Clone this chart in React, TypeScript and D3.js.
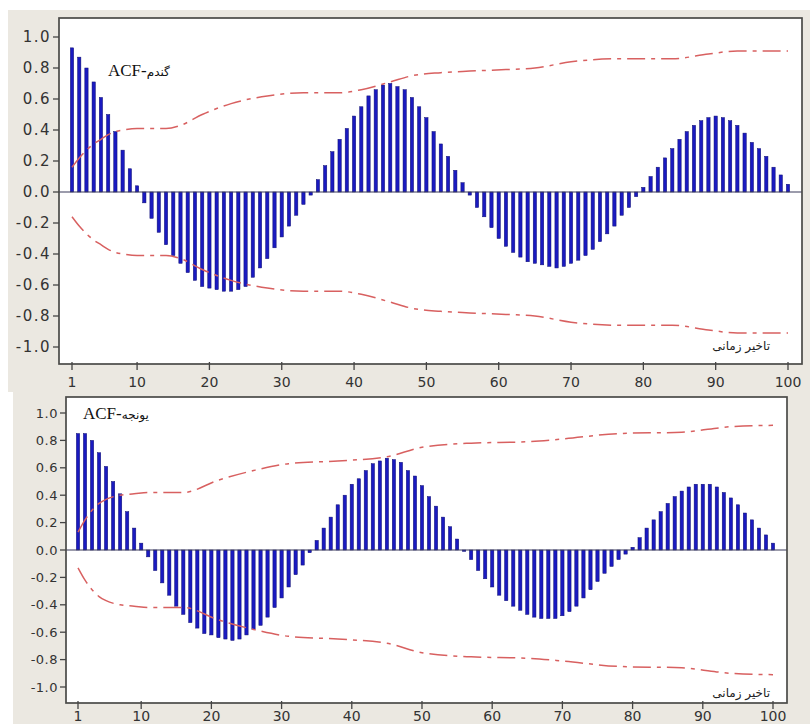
import React from "react";
import * as d3 from "d3";

const lags: number[] = Array.from({ length: 100 }, (_, i) => i + 1);

const wheatAcf: number[] = [
  0.93, 0.87, 0.80, 0.71, 0.61, 0.50, 0.39, 0.27, 0.15, 0.04,
  -0.07, -0.17, -0.26, -0.34, -0.41, -0.46, -0.52, -0.57, -0.61, -0.62,
  -0.63, -0.64, -0.64, -0.63, -0.61, -0.55, -0.49, -0.43, -0.36, -0.29,
  -0.22, -0.15, -0.08, -0.02, 0.08, 0.17, 0.26, 0.34, 0.41, 0.49,
  0.55, 0.62, 0.66, 0.69, 0.70, 0.68, 0.66, 0.61, 0.55, 0.48,
  0.39, 0.31, 0.23, 0.14, 0.06, -0.02, -0.10, -0.16, -0.23, -0.30,
  -0.35, -0.39, -0.42, -0.45, -0.46, -0.47, -0.48, -0.49, -0.48, -0.46,
  -0.44, -0.41, -0.37, -0.32, -0.27, -0.22, -0.15, -0.10, -0.03, 0.03,
  0.10, 0.16, 0.22, 0.28, 0.34, 0.39, 0.43, 0.46, 0.48, 0.49,
  0.48, 0.46, 0.43, 0.38, 0.32, 0.28, 0.23, 0.16, 0.11, 0.05,
];

const alfalfaAcf: number[] = [
  0.85, 0.85, 0.80, 0.71, 0.61, 0.50, 0.41, 0.28, 0.16, 0.05,
  -0.05, -0.15, -0.24, -0.33, -0.41, -0.47, -0.53, -0.57, -0.61, -0.62,
  -0.64, -0.65, -0.66, -0.65, -0.62, -0.58, -0.55, -0.49, -0.42, -0.35,
  -0.27, -0.18, -0.11, -0.02, 0.07, 0.16, 0.24, 0.33, 0.40, 0.48,
  0.52, 0.58, 0.63, 0.65, 0.67, 0.66, 0.64, 0.58, 0.54, 0.47,
  0.39, 0.32, 0.24, 0.17, 0.08, -0.01, -0.07, -0.15, -0.21, -0.27,
  -0.33, -0.37, -0.41, -0.44, -0.47, -0.49, -0.50, -0.50, -0.50, -0.48,
  -0.45, -0.41, -0.35, -0.29, -0.23, -0.17, -0.12, -0.07, -0.03, 0.02,
  0.09, 0.16, 0.22, 0.28, 0.34, 0.39, 0.43, 0.46, 0.48, 0.48,
  0.48, 0.46, 0.42, 0.38, 0.33, 0.27, 0.22, 0.16, 0.11, 0.05,
];

const wheatBandLags: number[] = [1, 2, 3, 4, 5, 6, 7, 8, 10, 14, 16, 19, 23, 28, 33, 38, 41, 45, 48, 52, 56, 61, 65, 70, 77, 84, 89, 93, 100];
const wheatBand: number[] = [0.16, 0.22, 0.27, 0.31, 0.34, 0.37, 0.39, 0.40, 0.41, 0.41, 0.43, 0.50, 0.57, 0.62, 0.64, 0.64, 0.66, 0.71, 0.75, 0.77, 0.78, 0.79, 0.80, 0.84, 0.86, 0.86, 0.89, 0.91, 0.91];

const alfalfaBandLags: number[] = [1, 2, 3, 4, 5, 7, 9, 11, 16, 21, 26, 31, 38, 45, 50, 57, 65, 70, 78, 87, 94, 100];
const alfalfaBand: number[] = [0.13, 0.22, 0.29, 0.34, 0.37, 0.40, 0.41, 0.42, 0.42, 0.51, 0.58, 0.63, 0.65, 0.68, 0.75, 0.78, 0.79, 0.81, 0.85, 0.86, 0.90, 0.91];

const yTicks: number[] = [1.0, 0.8, 0.6, 0.4, 0.2, 0.0, -0.2, -0.4, -0.6, -0.8, -1.0];
const xTicks: number[] = [1, 10, 20, 30, 40, 50, 60, 70, 80, 90, 100];

const titleLatin = "ACF-";
const wheatName = "گندم";
const alfalfaName = "یونجه";
const lagLabel = "تاخیر زمانی";

type PanelProps = {
  values: number[];
  bandLags: number[];
  band: number[];
  name: string;
  left: number;
  right: number;
  top: number;
  bottom: number;
  x1: number;
  x100: number;
  zeroY: number;
  unit: number;
  yFont: number;
  ySpacing: number;
  xFont: number;
  titleX: number;
  titleY: number;
  lagLabelY: number;
  xLabelY: number;
};

function fmt(v: number): string {
  const s = Math.abs(v).toFixed(1);
  return v < -1e-9 ? "-" + s : s;
}

function Panel(p: PanelProps) {
  const x = d3.scaleLinear().domain([1, 100]).range([p.x1, p.x100]);
  const y = d3
    .scaleLinear()
    .domain([(p.zeroY - p.bottom) / p.unit, (p.zeroY - p.top) / p.unit])
    .range([p.bottom, p.top]);
  const pts: [number, number][] = p.bandLags.map((l, i) => [l, p.band[i]]);
  const upper = d3
    .line<[number, number]>()
    .x((d) => x(d[0]))
    .y((d) => y(d[1]))
    .curve(d3.curveMonotoneX);
  const lower = d3
    .line<[number, number]>()
    .x((d) => x(d[0]))
    .y((d) => y(-d[1]))
    .curve(d3.curveMonotoneX);
  const bw = 3.3;
  return (
    <g>
      <rect x={p.left} y={p.top} width={p.right - p.left} height={p.bottom - p.top} fill="#ffffff" />
      {lags.map((l, i) => {
        const v = p.values[i];
        const y0 = y(0);
        const yv = y(v);
        return (
          <rect
            key={l}
            x={x(l) - bw / 2}
            y={Math.min(y0, yv)}
            width={bw}
            height={Math.max(0.8, Math.abs(yv - y0))}
            fill="#1a1ac0"
            stroke="#0e0e70"
            strokeWidth={0.5}
          />
        );
      })}
      <line x1={p.left} x2={p.right} y1={y(0)} y2={y(0)} stroke="#3a3a5a" strokeWidth={1.2} />
      <path d={upper(pts) || ""} fill="none" stroke="#d86060" strokeWidth={1.5} strokeDasharray="18,6,4,6" />
      <path d={lower(pts) || ""} fill="none" stroke="#d86060" strokeWidth={1.5} strokeDasharray="18,6,4,6" />
      <rect x={p.left} y={p.top} width={p.right - p.left} height={p.bottom - p.top} fill="none" stroke="#4a4a48" strokeWidth={1.7} />
      {yTicks.map((t) => (
        <g key={t}>
          <line x1={p.left - 6} x2={p.left} y1={y(t)} y2={y(t)} stroke="#444" strokeWidth={1.3} />
          <text
            x={p.left - 8}
            y={y(t)}
            dy="0.36em"
            textAnchor="end"
            fontFamily="DejaVu Sans, Verdana, sans-serif"
            fontSize={p.yFont}
            letterSpacing={p.ySpacing}
            fill="#333"
          >
            {fmt(t)}
          </text>
        </g>
      ))}
      {xTicks.map((t) => (
        <g key={t}>
          <line x1={x(t)} x2={x(t)} y1={p.bottom - 2} y2={p.bottom + 6} stroke="#444" strokeWidth={1.3} />
          <text
            x={x(t)}
            y={p.xLabelY}
            textAnchor="middle"
            fontFamily="DejaVu Sans, Verdana, sans-serif"
            fontSize={p.xFont}
            fill="#333"
          >
            {t}
          </text>
        </g>
      ))}
      <text x={p.titleX} y={p.titleY} fontFamily="Liberation Serif, Times New Roman, serif" fontSize={17} fill="#111" direction="ltr">
        {titleLatin}
        <tspan fontFamily="DejaVu Sans, sans-serif" fontSize={12}>
          {p.name}
        </tspan>
      </text>
      <text x={770} y={p.lagLabelY} textAnchor="end" fontFamily="DejaVu Sans, sans-serif" fontSize={12} fill="#222">
        {lagLabel}
      </text>
    </g>
  );
}

export default function App() {
  return (
    <svg
      width={810}
      height={724}
      style={{ position: "absolute", left: 0, top: 0, background: "#ffffff" }}
    >
      <rect x={8} y={10} width={802} height={382} fill="#ebe8e1" />
      <rect x={13} y={392} width={797} height={332} fill="#ebe8e1" />
      <Panel
        values={wheatAcf}
        bandLags={wheatBandLags}
        band={wheatBand}
        name={wheatName}
        left={59}
        right={802}
        top={18}
        bottom={364}
        x1={72}
        x100={788}
        zeroY={192}
        unit={155}
        yFont={15}
        ySpacing={1.5}
        xFont={14}
        titleX={108}
        titleY={76}
        lagLabelY={350}
        xLabelY={387}
      />
      <Panel
        values={alfalfaAcf}
        bandLags={alfalfaBandLags}
        band={alfalfaBand}
        name={alfalfaName}
        left={66}
        right={787}
        top={397}
        bottom={703}
        x1={78}
        x100={773}
        zeroY={550}
        unit={137}
        yFont={13}
        ySpacing={0.5}
        xFont={14}
        titleX={83}
        titleY={419}
        lagLabelY={697}
        xLabelY={721}
      />
    </svg>
  );
}
